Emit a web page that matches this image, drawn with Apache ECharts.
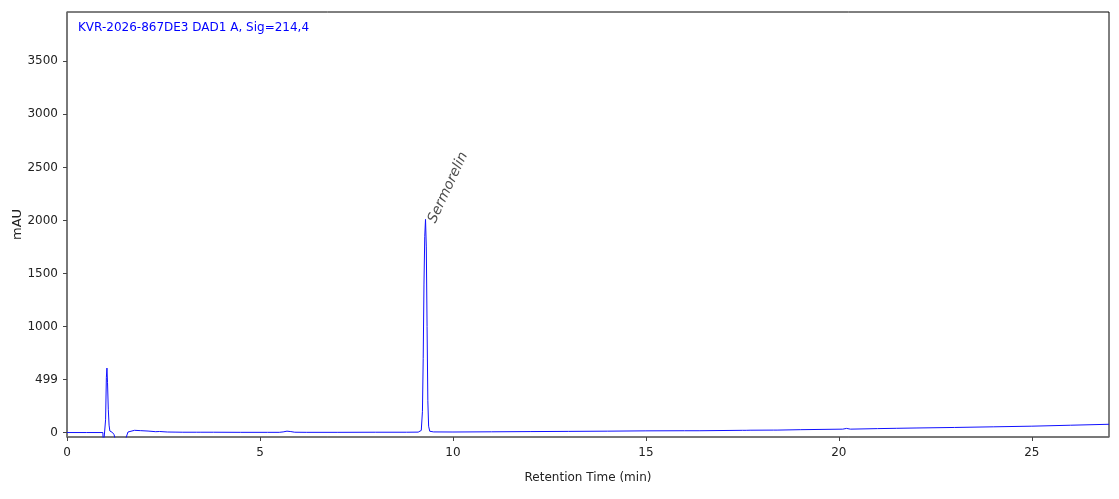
<!DOCTYPE html>
<html>
<head>
<meta charset="utf-8">
<script src="https://cdn.jsdelivr.net/npm/echarts@6/dist/echarts.min.js"></script>
<style>
html,body{margin:0;padding:0;background:#fff;}
#chart{width:1119px;height:499px;}
</style>
</head>
<body>
<div id="chart"></div>
<script>
// Retention times (min) and signal (mAU)
var times = [
  0, 0.5, 0.93, 0.94, 0.99, 1.00, 1.02, 1.035, 1.05, 1.07, 1.09, 1.11, 1.14, 1.18, 1.22, 1.26, 1.32,
  1.50, 1.53, 1.58, 1.63, 1.75, 1.9, 2.1, 2.3, 2.4, 2.45, 2.6, 2.8, 3.0, 3.35, 3.4, 3.45, 3.8, 4.5,
  5.2, 5.5, 5.6, 5.7, 5.8, 5.9, 6.2, 7.0, 8.0, 8.8, 9.1, 9.18, 9.21, 9.23, 9.25, 9.27, 9.29,
  9.31, 9.33, 9.35, 9.37, 9.40, 9.5, 10, 11, 12, 13, 14, 15, 16, 16.4, 17.5, 17.6, 17.65, 17.7,
  18.3, 18.34, 18.4, 19, 20.1, 20.2, 20.3, 21, 21.5, 22, 23, 24, 25, 26, 27
];
var signal = [
  0, 0, 0, -150, -150, 120, 520, 608, 470, 220, 70, 15, 8, 0, -20, -80, -150,
  -150, -50, 5, 22, 21, 18, 14, 8, 10, 7, 5, 4, 3, 3, 6, 3, 3, 2,
  2, 2, 6, 13, 9, 3, 2, 2, 3, 3, 4, 20, 200, 700, 1400, 1850, 2010,
  1750, 1000, 300, 60, 12, 6, 5, 7, 9, 11, 13, 16, 17, 17, 21, 21, 28, 22,
  23, 29, 23, 27, 32, 39, 32, 37, 40, 43, 48, 54, 60, 69, 78
];
var peakNames = ['Sermorelin'];
var peakTimes = [9.29];
var peakHeights = [2010];
var xTicks = [0, 5, 10, 15, 20, 25];
var yTicks = [0, 500, 1000, 1500, 2000, 2500, 3000, 3500];
var yTickLabels = ['0', '499', '1000', '1500', '2000', '2500', '3000', '3500'];
var titleText = 'KVR-2026-867DE3 DAD1 A, Sig=214,4';

var lineData = times.map(function (t, i) { return [t, signal[i]]; });
var peakData = peakTimes.map(function (t, i) { return { value: [t, peakHeights[i]], name: peakNames[i] }; });

var chart = echarts.init(document.getElementById('chart'));
var font = 'DejaVu Sans';
chart.setOption({
  animation: false,
  backgroundColor: '#fff',
  textStyle: { fontFamily: font },
  title: {
    text: titleText,
    left: 73, top: 17,
    textStyle: { color: '#0000ff', fontSize: 12, fontWeight: 'normal', fontFamily: font }
  },
  grid: {
    left: 67, right: 10, top: 12, bottom: 62,
    containLabel: false, outerBoundsMode: 'none',
    show: true, borderColor: '#000', borderWidth: 1, backgroundColor: 'transparent'
  },
  xAxis: {
    type: 'value', min: 0, max: 27, interval: 5,
    name: 'Retention Time (min)', nameLocation: 'middle', nameGap: 35, nameMoveOverlap: false,
    nameTextStyle: { color: '#222', fontSize: 12, fontFamily: font },
    axisLine: { show: true, onZero: false, lineStyle: { color: '#777', width: 1.5 } },
    axisTick: { show: true, length: 4, lineStyle: { color: '#444' }, customValues: xTicks },
    axisLabel: { color: '#222', fontSize: 12, margin: 10, fontFamily: font, customValues: xTicks,
      formatter: function (v) { return String(v); } },
    splitLine: { show: false }
  },
  yAxis: {
    type: 'value', min: -42, max: 3965,
    name: 'mAU', nameLocation: 'middle', nameGap: 43, nameMoveOverlap: false,
    nameTextStyle: { color: '#222', fontSize: 13, fontFamily: font },
    axisLine: { show: true, onZero: false, lineStyle: { color: '#777', width: 1.5 } },
    axisTick: { show: true, length: 4, lineStyle: { color: '#444' }, customValues: yTicks },
    axisLabel: { color: '#222', fontSize: 12, margin: 9, fontFamily: font, customValues: yTicks,
      formatter: function (v) { var i = yTicks.indexOf(v); return i >= 0 ? yTickLabels[i] : ''; } },
    splitLine: { show: false }
  },
  series: [
    {
      type: 'line', data: lineData, symbol: 'none', clip: true,
      lineStyle: { color: '#1010ff', width: 1 }
    },
    {
      type: 'scatter', data: peakData, symbolSize: 0, silent: true,
      label: {
        show: true, position: 'inside', formatter: '{b}', rotate: 65,
        align: 'left', verticalAlign: 'top', offset: [0, 0],
        fontSize: 14, fontStyle: 'italic', color: '#222', fontFamily: font
      }
    }
  ]
});
</script>
</body>
</html>
